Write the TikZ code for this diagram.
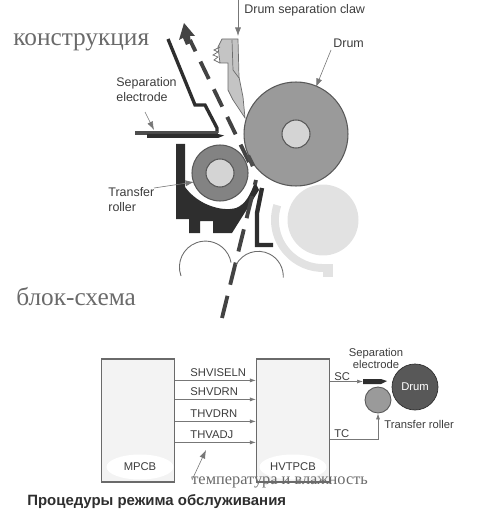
\documentclass[tikz,border=0pt]{standalone}
\usepackage{fontspec}
\setmainfont{Liberation Sans}
\newfontfamily\serifcyr{Liberation Serif}
\usetikzlibrary{arrows.meta,positioning,calc,shapes.geometric}
\definecolor{InkDark}{HTML}{2E2E2E}
\definecolor{DrumGray}{HTML}{9A9A9A}
\definecolor{HubGray}{HTML}{D4D4D4}
\definecolor{GhostGray}{HTML}{E2E2E2}
\definecolor{ClawGray}{HTML}{C4C4C4}
\definecolor{BoardBg}{HTML}{F3F3F3}
\definecolor{LeadGray}{HTML}{777777}
\definecolor{TextGray}{HTML}{3C3C3C}
\definecolor{NoteGray}{HTML}{6A6A6A}
\begin{document}
\begin{tikzpicture}[
    x=0.02cm, y=-0.02cm,
    lbl/.style={font=\fontsize{7.1}{8.4}\selectfont, text=TextGray, inner sep=0pt, align=left},
    lblB/.style={font=\fontsize{6.4}{6.8}\selectfont, text=TextGray, inner sep=0pt},
    sig/.style={font=\fontsize{6.4}{7.4}\selectfont, text=TextGray, inner sep=0pt, anchor=base west},
    note/.style={font=\serifcyr\fontsize{14.4}{16}\selectfont, text=NoteGray, inner sep=0pt},
    board/.style={draw=NoteGray, fill=BoardBg, line width=0.7pt, minimum width=1.46cm, minimum height=2.46cm, inner sep=0pt},
    tag/.style={fill=white, ellipse, inner sep=0pt, minimum width=1.34cm, minimum height=0.5cm, font=\fontsize{6.4}{7.4}\selectfont, text=TextGray},
    lead/.style={draw=LeadGray, line width=0.35pt, -{Latex[length=1.7mm,width=1.2mm]}},
    wire/.style={draw=LeadGray, line width=0.35pt, -{Latex[length=1.2mm,width=0.8mm]}}
  ]
    \useasboundingbox (0,0) rectangle (500,513);

    % titles
    \node[note, anchor=west] (titleA) at (13,42) {конструкция};
    \node[note, anchor=west] (titleB) at (16,297) {блок-схема};

    % drums and rollers
    \draw[GhostGray, line width=4.5pt] (277.3,205.2) arc[start angle=198, end angle=88, radius=48];
    \fill[GhostGray] (323,264) rectangle (333,277);
    \node[circle, fill=GhostGray, minimum size=1.42cm, inner sep=0pt] (ghost) at (323,220) {};
    \node[circle, draw=InkDark!80, fill=DrumGray, line width=0.6pt, minimum size=2.08cm, inner sep=0pt] (drum) at (296,134) {};
    \node[circle, draw=InkDark!80, fill=HubGray, line width=0.6pt, minimum size=0.56cm, inner sep=0pt] (drumhub) at (296,134) {};

    % holder
    \fill[InkDark] (176,144) -- (185,144) -- (185,187) .. controls (198,205) and (222,212) .. (236,208)
      .. controls (246,204) and (250,195) .. (255,182) -- (259,190) -- (232,233) -- (213,233) -- (213,221)
      -- (200,221) -- (200,233) -- (189,233) -- (189,219) -- (176,219) -- cycle;
    \node[circle, draw=InkDark!80, fill=DrumGray!85!black, line width=0.6pt, minimum size=1.12cm, inner sep=0pt] (roller) at (220,173) {};
    \node[circle, draw=InkDark!80, fill=HubGray, line width=0.6pt, minimum size=0.56cm, inner sep=0pt] (rollerhub) at (220,173) {};
    \draw[InkDark, line width=2.5pt] (262,188) -- (257,213) -- (257,245) -- (273,245);

    % guide and electrode
    \draw[InkDark, line width=1.9pt] (168,39) -- (195,105) -- (205,105) -- (217,128) -- (217,133);
    \fill[InkDark!85] (135,131) -- (218,131) -- (218,135) -- (135,135) -- cycle;
    \fill[InkDark] (147,134) -- (218,134) -- (224,135.5) -- (218,138) -- (147,138) -- cycle;

    % claw
    \draw[InkDark!70, fill=ClawGray, line width=0.4pt] (222,39) -- (238,39) -- (239,77) -- (243,97) -- (245,118) -- (233,100) -- (228,90) -- (228,63) -- (220,63) -- (218,47) -- cycle;
    \draw[InkDark!70, line width=0.4pt] (232,40) -- (233,70) -- (239,78);
    \draw[InkDark!70, line width=0.4pt] (220,47) -- (214,50) -- (218,52) -- (213,55) -- (218,57) -- (214,60) -- (220,63);

    % paper path
    \draw[InkDark!90, line width=2.2pt, dash pattern=on 13pt off 6.5pt] (222,318) -- (256,180);
    \draw[InkDark!90, line width=2.2pt, dash pattern=on 11pt off 6.5pt] (249,162) -- (190,40);
    \fill[InkDark!90] (184,23) -- (195,36) -- (190,36) -- (191,43) -- (186,45) -- (183,38) -- (179,40) -- cycle;
    \fill[InkDark!85] (246,155) -- (250,155) -- (255,165) -- (251,167) -- cycle;

    % bottom rollers
    \draw[InkDark!70, line width=0.5pt] (181,276) arc[start angle=160, end angle=350, radius=26];
    \draw[InkDark!70, line width=0.5pt] (236,265) arc[start angle=207, end angle=363, radius=25];

    % labels upper part
    \node[lbl, anchor=west] (clawlbl) at (244,10) {Drum separation claw};
    \node[lbl, anchor=west] (drumlbl) at (333,43) {Drum};
    \node[lbl, anchor=north west] (seplbl) at (116,77) {Separation\\electrode};
    \node[lbl, anchor=north west] (trlbl) at (108,187) {Transfer\\roller};
    \coordinate (clawtop) at (238,0);
    \coordinate (clawtip) at (238,36);
    \coordinate (drumfrom) at (331,50);
    \coordinate (drumtip) at (316,87);
    \coordinate (sepfrom) at (145,112);
    \coordinate (septip) at (154,130);
    \coordinate (trfrom) at (154,188);
    \coordinate (trtip) at (194,182);
    \draw[lead] (clawtop) -- (clawtip);
    \draw[lead] (drumfrom) -- (drumtip);
    \draw[lead] (sepfrom) -- (septip);
    \draw[lead] (trfrom) -- (trtip);

    % block scheme
    \node[board] (mpcb) at (138,420.5) {};
    \node[board] (hvtpcb) at (293,420.5) {};
    \node[tag] (mpcbtag) at (140,467) {MPCB};
    \node[tag] (hvtag) at (293,467) {HVTPCB};

    \coordinate (a1) at ($(mpcb.north east)+(0,22)$);
    \coordinate (a2) at ($(mpcb.north east)+(0,41)$);
    \coordinate (a3) at ($(mpcb.north east)+(0,63)$);
    \coordinate (a4) at ($(mpcb.north east)+(0,84)$);
    \foreach \n/\sname in {1/SHVISELN,2/SHVDRN,3/THVDRN,4/THVADJ} {
      \draw[wire] (a\n) -- (a\n -| hvtpcb.west);
      \node[sig] at ($(a\n)+(15,-4)$) {\sname};
    }

    \node[circle, fill=InkDark!80, draw=InkDark, minimum size=0.92cm, inner sep=0pt, text=white, font=\fontsize{6.4}{7.4}\selectfont] (drumB) at (415,387) {Drum};
    \node[circle, fill=DrumGray, draw=InkDark!80, line width=0.5pt, minimum size=0.52cm, inner sep=0pt] (rollerB) at (378,400) {};
    \fill[InkDark] (363,379) -- (381,379) -- (387,381) -- (381,384) -- (363,384) -- cycle;
    \coordinate (sctip) at (363,381.5);
    \coordinate (tcrow) at (330,439);
    \draw[wire] (hvtpcb.east |- sctip) -- (sctip);
    \draw[wire] (hvtpcb.east |- tcrow) -| (rollerB.south);
    \node[sig] (sclbl) at (334,380) {SC};
    \node[sig] (tclbl) at (334,437) {TC};
    \node[lblB, align=center, anchor=north] (sepB) at (376,348) {Separation\\electrode};
    \node[lblB, anchor=west] (trB) at (384,424) {Transfer roller};

    % note and caption
    \coordinate (notefrom) at (192,480);
    \coordinate (notetip) at (206,450);
    \draw[lead] (notefrom) -- (notetip);
    \node[note, anchor=west, font=\serifcyr\fontsize{9.3}{10}\selectfont] (notelbl) at (191,482) {температура и влажность};
    \node[anchor=west, inner sep=0pt, font=\bfseries\fontsize{8.5}{10}\selectfont, text=InkDark] (caption) at (27,502) {Процедуры режима обслуживания};
\end{tikzpicture}
\end{document}
